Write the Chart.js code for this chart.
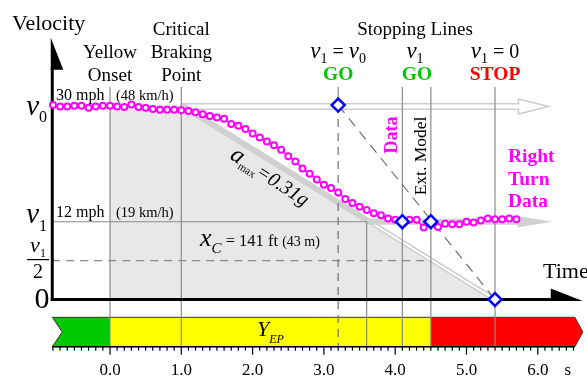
<!DOCTYPE html>
<html>
<head>
<meta charset="utf-8">
<script src="https://cdn.jsdelivr.net/npm/chart.js@4"></script>
<style>
  html, body { margin: 0; padding: 0; background: #fff; }
  #wrap { width: 587px; height: 377px; }
</style>
</head>
<body>
<div id="wrap"><canvas id="grafico"></canvas></div>
<script>
// dados medidos (tempo em s, velocidade em mph)
const tempos = [-0.8, -0.7, -0.6, -0.5, -0.4, -0.3, -0.2, -0.1, 0.0, 0.1, 0.2, 0.3, 0.4, 0.5, 0.6, 0.7, 0.8, 0.9,
  1.0, 1.1, 1.2, 1.3, 1.4, 1.5, 1.6, 1.7, 1.8, 1.9, 2.0, 2.1, 2.2, 2.3, 2.4, 2.5, 2.6, 2.7, 2.8, 2.9,
  3.0, 3.1, 3.2, 3.3, 3.4, 3.5, 3.6, 3.7, 3.8, 3.9, 4.0, 4.1, 4.2, 4.3, 4.4, 4.5, 4.6, 4.7, 4.8, 4.9,
  5.0, 5.1, 5.2, 5.3, 5.4, 5.5, 5.6, 5.7];
const velocidades = [30.0, 29.8, 29.8, 29.9, 29.9, 29.6, 29.8, 29.9, 29.9, 29.8, 29.7, 30.1, 29.7, 29.6, 29.4, 29.3, 29.3, 29.3,
  29.2, 29.1, 28.9, 28.6, 28.3, 28.1, 27.9, 27.1, 26.8, 26.3, 25.6, 25.0, 24.4, 23.8, 23.1, 22.1, 21.3, 20.2, 19.4, 18.5,
  17.7, 17.2, 16.5, 15.5, 14.9, 14.3, 13.8, 13.3, 13.0, 12.5, 12.3, 12.2, 12.3, 12.3, 11.1, 12.1, 11.2, 11.7, 11.6, 11.6,
  12.0, 11.9, 12.2, 12.5, 12.4, 12.4, 12.5, 12.4];

// linhas de parada (losangos azuis)
const paradaT = [3.2, 4.1, 4.5, 5.4];
const paradaV = [30, 12, 12, 0];

const v0 = 30;
const v1 = 12;

// frenagem a_max = 0.31g
const frenagemT = [1.0, 5.4];
const frenagemV = [30, 0];
const curvaT = 3.64;       // onde a frenagem cruza v1
const setaCurvaT = 6.21;   // ponta da seta "right turn"
const setaTopoT = 6.15;    // ponta da seta vazada em v0

// linhas verticais
const marcosAltos = [0.0, 1.0, 4.1, 4.5, 5.4];
const marcoXc = 3.6;
const marcoTracejado = 3.2;

// faixa colorida embaixo
const zonasT = [-0.81, 0.0, 4.5, 6.52];
const zonasCor = ['#00c800', '#ffff00', '#ff0000'];

const ticksT = [0, 1, 2, 3, 4, 5, 6];
const ticksLabel = ['0.0', '1.0', '2.0', '3.0', '4.0', '5.0', '6.0'];

const eixoT = -0.81;
const eixoFimT = 6.63;
const eixoTopoV = 40.4;
const topoMarcosV = 32.8;
const faixaTopoV = -2.75;
const faixaBaseV = -7.28;

const SERIF = '"Liberation Serif", "Times New Roman", serif';

function textoRico(ctx, partes, x, y, align) {
    let total = 0;
    partes.forEach(p => { ctx.font = p.f; p.w = ctx.measureText(p.t).width; total += p.w; });
    let cx = align === 'center' ? x - total / 2 : (align === 'right' ? x - total : x);
    ctx.textAlign = 'left';
    partes.forEach(p => {
        ctx.font = p.f;
        ctx.fillStyle = p.c || '#000';
        ctx.fillText(p.t, cx, y + (p.dy || 0));
        cx += p.w;
    });
}

const desenho = {
    id: 'desenho',
    beforeDatasetsDraw(chart) {
        const ctx = chart.ctx;
        const X = v => chart.scales.x.getPixelForValue(v);
        const Y = v => chart.scales.y.getPixelForValue(v);
        ctx.save();

        // area cinza
        ctx.fillStyle = '#e8e8e8';
        ctx.beginPath();
        ctx.moveTo(X(0), Y(0));
        ctx.lineTo(X(0), Y(v0));
        ctx.lineTo(X(frenagemT[0]), Y(frenagemV[0]));
        ctx.lineTo(X(frenagemT[1]), Y(frenagemV[1]));
        ctx.closePath();
        ctx.fill();

        // seta vazada em v0
        const yTopo = Y(v0) + 1.5;
        const pontaTopo = X(setaTopoT);
        ctx.lineCap = 'butt';
        ctx.strokeStyle = '#cccccc'; ctx.lineWidth = 7;
        ctx.beginPath(); ctx.moveTo(X(1.0), yTopo); ctx.lineTo(pontaTopo - 29, yTopo); ctx.stroke();
        ctx.strokeStyle = '#ffffff'; ctx.lineWidth = 4;
        ctx.beginPath(); ctx.moveTo(X(1.0) + 1, yTopo); ctx.lineTo(pontaTopo - 29, yTopo); ctx.stroke();
        ctx.beginPath();
        ctx.moveTo(pontaTopo - 30, yTopo - 7.5); ctx.lineTo(pontaTopo, yTopo); ctx.lineTo(pontaTopo - 30, yTopo + 7.5);
        ctx.closePath();
        ctx.fillStyle = '#fff'; ctx.fill();
        ctx.strokeStyle = '#cccccc'; ctx.lineWidth = 1.5; ctx.stroke();
        ctx.strokeStyle = '#ffffff'; ctx.lineWidth = 4;
        ctx.beginPath(); ctx.moveTo(pontaTopo - 33, yTopo); ctx.lineTo(pontaTopo - 28, yTopo); ctx.stroke();

        // linha dupla do fim da frenagem
        ctx.strokeStyle = '#d0d0d0'; ctx.lineWidth = 5;
        ctx.beginPath(); ctx.moveTo(X(curvaT), Y(v1)); ctx.lineTo(X(frenagemT[1]), Y(frenagemV[1])); ctx.stroke();
        ctx.strokeStyle = '#ffffff'; ctx.lineWidth = 2;
        ctx.beginPath(); ctx.moveTo(X(curvaT), Y(v1)); ctx.lineTo(X(frenagemT[1]), Y(frenagemV[1])); ctx.stroke();

        // seta grossa: frenagem + curva
        const pontaCurva = X(setaCurvaT);
        ctx.strokeStyle = '#d0d0d0'; ctx.lineWidth = 6; ctx.lineJoin = 'round';
        ctx.beginPath();
        ctx.moveTo(X(frenagemT[0]), Y(frenagemV[0]));
        ctx.lineTo(X(curvaT), Y(v1));
        ctx.lineTo(pontaCurva - 33, Y(v1));
        ctx.stroke();
        ctx.fillStyle = '#d0d0d0';
        ctx.beginPath();
        ctx.moveTo(pontaCurva - 35, Y(v1) - 5.5); ctx.lineTo(pontaCurva, Y(v1)); ctx.lineTo(pontaCurva - 35, Y(v1) + 5.5);
        ctx.closePath(); ctx.fill();

        // linhas horizontais finas
        ctx.strokeStyle = '#8a8a8a'; ctx.lineWidth = 1.2;
        ctx.beginPath(); ctx.moveTo(X(eixoT), Y(v1)); ctx.lineTo(X(marcoXc), Y(v1)); ctx.stroke();
        ctx.setLineDash([8, 6]);
        ctx.beginPath(); ctx.moveTo(X(eixoT), Y(v1 / 2)); ctx.lineTo(X(4.5), Y(v1 / 2)); ctx.stroke();
        ctx.setLineDash([]);

        // faixa colorida
        const fTopo = Y(faixaTopoV), fBase = Y(faixaBaseV), fMeio = (fTopo + fBase) / 2;
        const xEsq = X(zonasT[0]), xDir = X(zonasT[3]);
        ctx.fillStyle = zonasCor[0];
        ctx.beginPath();
        ctx.moveTo(xEsq, fTopo); ctx.lineTo(X(zonasT[1]), fTopo); ctx.lineTo(X(zonasT[1]), fBase);
        ctx.lineTo(xEsq, fBase); ctx.lineTo(xEsq + 10, fMeio); ctx.closePath(); ctx.fill();
        ctx.fillStyle = zonasCor[1];
        ctx.fillRect(X(zonasT[1]), fTopo, X(zonasT[2]) - X(zonasT[1]), fBase - fTopo);
        ctx.fillStyle = zonasCor[2];
        ctx.beginPath();
        ctx.moveTo(X(zonasT[2]), fTopo); ctx.lineTo(xDir, fTopo); ctx.lineTo(xDir + 8, fMeio);
        ctx.lineTo(xDir, fBase); ctx.lineTo(X(zonasT[2]), fBase); ctx.closePath(); ctx.fill();
        ctx.strokeStyle = '#3a3a1a'; ctx.lineWidth = 1;
        ctx.beginPath();
        ctx.moveTo(xEsq, fTopo); ctx.lineTo(xDir, fTopo); ctx.lineTo(xDir + 8, fMeio); ctx.lineTo(xDir, fBase);
        ctx.lineTo(xEsq, fBase); ctx.lineTo(xEsq + 10, fMeio); ctx.closePath(); ctx.stroke();

        // linhas verticais
        ctx.strokeStyle = '#8a8a8a'; ctx.lineWidth = 1.2;
        marcosAltos.forEach(t => {
            ctx.beginPath(); ctx.moveTo(X(t), Y(topoMarcosV)); ctx.lineTo(X(t), fBase); ctx.stroke();
        });
        ctx.beginPath(); ctx.moveTo(X(marcoXc), Y(v1)); ctx.lineTo(X(marcoXc), fBase); ctx.stroke();
        ctx.beginPath(); ctx.moveTo(X(marcoTracejado), Y(topoMarcosV)); ctx.lineTo(X(marcoTracejado), Y(v0)); ctx.stroke();
        ctx.strokeStyle = '#707070';
        ctx.setLineDash([8, 6]);
        ctx.beginPath(); ctx.moveTo(X(marcoTracejado), Y(v0)); ctx.lineTo(X(marcoTracejado), fBase); ctx.stroke();
        ctx.strokeStyle = '#666666';
        ctx.setLineDash([10, 7]); ctx.lineWidth = 1.1;
        ctx.beginPath(); ctx.moveTo(X(paradaT[0]), Y(paradaV[0])); ctx.lineTo(X(paradaT[3]), Y(paradaV[3])); ctx.stroke();
        ctx.setLineDash([]);

        // eixos
        const xa = X(eixoT), y0 = Y(0), ponta = X(eixoFimT), topo = Y(eixoTopoV);
        ctx.strokeStyle = '#000'; ctx.fillStyle = '#000'; ctx.lineWidth = 3; ctx.lineCap = 'butt';
        ctx.beginPath(); ctx.moveTo(xa, y0 + 1.5); ctx.lineTo(xa, topo + 30); ctx.stroke();
        ctx.beginPath(); ctx.moveTo(xa - 1.5, topo); ctx.lineTo(xa + 11, topo + 32); ctx.lineTo(xa - 1.5, topo + 32); ctx.closePath(); ctx.fill();
        ctx.beginPath(); ctx.moveTo(xa - 1.5, y0); ctx.lineTo(ponta - 30, y0); ctx.stroke();
        ctx.beginPath(); ctx.moveTo(ponta - 32, y0 - 11); ctx.lineTo(ponta, y0 + 1.5); ctx.lineTo(ponta - 32, y0 + 1.5); ctx.closePath(); ctx.fill();

        // eixo de tempo sob a faixa
        ctx.lineWidth = 1.5;
        ctx.beginPath(); ctx.moveTo(xEsq, fBase); ctx.lineTo(xDir, fBase); ctx.stroke();
        ctx.lineWidth = 1.2;
        for (let k = -8; k <= 65; k++) {
            const x = X(k / 10);
            const len = k % 10 === 0 ? 8 : 4;
            ctx.beginPath(); ctx.moveTo(x, fBase); ctx.lineTo(x, fBase + len); ctx.stroke();
        }
        ctx.font = '17px ' + SERIF; ctx.textAlign = 'center'; ctx.textBaseline = 'alphabetic';
        ticksT.forEach((t, i) => ctx.fillText(ticksLabel[i], X(t), 375));
        ctx.fillText('s', X(6.42), 375);

        ctx.restore();
    },
    afterDatasetsDraw(chart) {
        const ctx = chart.ctx;
        const X = v => chart.scales.x.getPixelForValue(v);
        const Y = v => chart.scales.y.getPixelForValue(v);
        ctx.save();
        ctx.textBaseline = 'alphabetic';
        ctx.fillStyle = '#000';

        ctx.font = '22px ' + SERIF; ctx.textAlign = 'left';
        ctx.fillText('Velocity', 12, 30);
        ctx.fillText('Time', 543, 278);

        ctx.font = '19px ' + SERIF; ctx.textAlign = 'center';
        ctx.fillText('Yellow', X(0), 58);
        ctx.fillText('Onset', X(0), 81);
        ctx.fillText('Critical', X(1.0), 35);
        ctx.fillText('Braking', X(1.0), 58);
        ctx.fillText('Point', X(1.0), 81);
        ctx.fillText('Stopping Lines', 415, 35);

        const iv = 'italic 23px ' + SERIF, sub = '14px ' + SERIF, eq = '20px ' + SERIF;
        textoRico(ctx, [{t: 'v', f: iv}, {t: '1', f: sub, dy: 5}, {t: ' = ', f: eq}, {t: 'v', f: iv}, {t: '0', f: sub, dy: 5}], X(3.2), 58, 'center');
        textoRico(ctx, [{t: 'v', f: iv}, {t: '1', f: sub, dy: 5}], 415, 58, 'center');
        textoRico(ctx, [{t: 'v', f: iv}, {t: '1', f: sub, dy: 5}, {t: ' = 0', f: eq}], X(5.4), 58, 'center');

        ctx.font = 'bold 19.5px ' + SERIF; ctx.textAlign = 'center';
        ctx.fillStyle = '#00c800';
        ctx.fillText('GO', X(3.2), 80);
        ctx.fillText('GO', 417, 80);
        ctx.fillStyle = '#ff0000';
        ctx.fillText('STOP', X(5.4), 80);

        ctx.fillStyle = '#000';
        ctx.textAlign = 'left';
        ctx.font = '16px ' + SERIF;
        ctx.fillText('30 mph', 56, 99.5);
        ctx.fillText('12 mph', 56, 217);
        ctx.font = '14.5px ' + SERIF;
        ctx.fillText('(48 km/h)', 116, 99.5);
        ctx.fillText('(19 km/h)', 116, 217);

        // rótulos do eixo y
        textoRico(ctx, [{t: 'v', f: 'italic 29px ' + SERIF}, {t: '0', f: '16px ' + SERIF, dy: 7}], 47, Y(v0) + 10, 'right');
        textoRico(ctx, [{t: 'v', f: 'italic 29px ' + SERIF}, {t: '1', f: '16px ' + SERIF, dy: 8}], 47, Y(v1) + 1, 'right');
        textoRico(ctx, [{t: 'v', f: 'italic 22px ' + SERIF}, {t: '1', f: '12px ' + SERIF, dy: 5}], 38, 252, 'center');
        ctx.strokeStyle = '#000'; ctx.lineWidth = 1.2;
        ctx.beginPath(); ctx.moveTo(27, Y(v1 / 2) - 1); ctx.lineTo(49, Y(v1 / 2) - 1); ctx.stroke();
        ctx.font = '20px ' + SERIF; ctx.textAlign = 'center'; ctx.fillStyle = '#000';
        ctx.fillText('2', 38, 278);
        ctx.font = '30px ' + SERIF;
        ctx.fillText('0', 42, 308);

        // a_max
        ctx.save();
        ctx.translate(229, 158);
        ctx.rotate(33 * Math.PI / 180);
        textoRico(ctx, [{t: 'a', f: 'italic 24px ' + SERIF}, {t: 'max', f: '11px ' + SERIF, dy: 4}, {t: '=0.31g', f: 'italic 20px ' + SERIF}], 0, 0, 'left');
        ctx.restore();

        // x_C
        textoRico(ctx, [{t: 'x', f: 'italic 26px ' + SERIF}, {t: 'C', f: 'italic 15px ' + SERIF, dy: 7}, {t: ' = 141 ft ', f: '16.5px ' + SERIF}, {t: '(43 m)', f: '14px ' + SERIF}], 200, 246, 'left');

        // textos verticais
        ctx.save();
        ctx.translate(392.5, 135); ctx.rotate(-Math.PI / 2);
        ctx.font = 'bold 18px ' + SERIF; ctx.fillStyle = '#ff00ff'; ctx.textAlign = 'center'; ctx.textBaseline = 'middle';
        ctx.fillText('Data', 0, 0);
        ctx.restore();
        ctx.save();
        ctx.translate(421.5, 156); ctx.rotate(-Math.PI / 2);
        ctx.font = '17.5px ' + SERIF; ctx.fillStyle = '#000'; ctx.textAlign = 'center'; ctx.textBaseline = 'middle';
        ctx.fillText('Ext. Model', 0, 0);
        ctx.restore();

        ctx.font = 'bold 19.5px ' + SERIF; ctx.fillStyle = '#ff00ff'; ctx.textAlign = 'left';
        ctx.fillText('Right', 508, 162);
        ctx.fillText('Turn', 508, 185);
        ctx.fillText('Data', 508, 207);

        // Y_EP na faixa
        textoRico(ctx, [{t: 'Y', f: 'italic 22px ' + SERIF}, {t: 'EP', f: 'italic 12px ' + SERIF, dy: 7}], 257, 336, 'left');

        ctx.restore();
    }
};

new Chart(document.getElementById('grafico'), {
    type: 'scatter',
    data: {
        datasets: [
            {
                data: paradaT.map((t, i) => ({ x: t, y: paradaV[i] })),
                showLine: false,
                pointStyle: 'rectRot',
                pointRadius: 6.5,
                pointBorderWidth: 2.5,
                pointBorderColor: '#0000ff',
                pointBackgroundColor: '#ffffff'
            },
            {
                data: tempos.map((t, i) => ({ x: t, y: velocidades[i] })),
                showLine: true,
                borderColor: '#ff00ff',
                borderWidth: 1.5,
                pointRadius: 3,
                pointBorderWidth: 2,
                pointBorderColor: '#ff00ff',
                pointBackgroundColor: '#ffffff'
            }
        ]
    },
    options: {
        responsive: true,
        maintainAspectRatio: false,
        animation: false,
        layout: { padding: 0, autoPadding: false },
        scales: {
            x: { type: 'linear', display: false, min: -110 / 71.3, max: 477 / 71.3 },
            y: { type: 'linear', display: false, min: -77.5 / 6.48, max: 299.5 / 6.48 }
        },
        plugins: { legend: { display: false }, tooltip: { enabled: false } }
    },
    plugins: [desenho]
});
</script>
</body>
</html>
